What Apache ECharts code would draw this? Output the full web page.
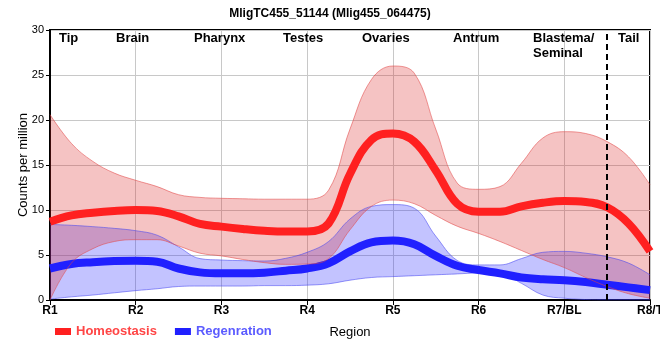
<!DOCTYPE html>
<html>
<head>
<meta charset="utf-8">
<script src="https://cdn.jsdelivr.net/npm/echarts@6/dist/echarts.min.js"></script>
<style>html,body{margin:0;padding:0;background:#fff}#c{width:660px;height:360px}</style>
</head>
<body>
<div id="c"></div>
<script>
// Region positions (R1..R8) sampled every quarter step
var xs = [1,1.25,1.5,1.75,2,2.25,2.5,2.75,3,3.25,3.5,3.75,4,4.25,4.5,4.75,5,5.25,5.5,5.75,6,6.25,6.5,6.75,7,7.25,7.5,7.75,8];
var tickLabels = ['R1','R2','R3','R4','R5','R6','R7/BL','R8/T'];
var regionNames = ['Tip','Brain','Pharynx','Testes','Ovaries','Antrum','Blastema/\nSeminal','Tail'];

var homeoMean = [8.7,9.4,9.7,9.9,10.0,9.9,9.3,8.45,8.15,7.9,7.7,7.6,7.6,8.5,14.0,17.8,18.5,17.6,14.4,10.7,9.8,9.8,10.4,10.8,11.0,10.9,10.3,8.5,5.4];
var homeoHigh = [20.6,17.4,15.4,14.1,13.3,12.6,11.7,11.4,11.3,11.25,11.2,11.2,11.2,12.2,19.0,24.5,26.0,25.2,19.0,13.0,12.3,12.6,15.2,18.0,18.7,18.5,17.6,15.9,12.8];
var homeoLow  = [0.0,4.1,5.7,6.5,6.7,6.7,6.0,5.2,4.9,4.5,4.15,3.96,4.0,4.6,7.8,10.4,11.1,10.7,9.4,8.2,7.4,6.5,5.5,4.5,3.6,2.5,1.5,0.7,0.2];

var regenMean = [3.5,4.0,4.2,4.33,4.37,4.26,3.5,3.07,2.96,2.96,3.04,3.26,3.5,4.07,5.4,6.4,6.6,6.2,4.9,3.8,3.33,2.96,2.5,2.3,2.2,2.0,1.7,1.4,1.1];
var regenHigh = [8.4,8.3,8.15,7.96,7.7,7.2,5.9,4.6,4.44,4.37,4.33,4.63,5.3,6.5,9.0,10.4,10.6,10.2,7.1,4.4,3.9,3.9,4.6,5.3,5.4,5.2,4.8,4.1,2.8];
var regenLow  = [0.1,0.35,0.55,0.8,1.04,1.25,1.5,1.55,1.55,1.55,1.6,1.6,1.65,1.8,2.2,2.5,2.6,2.7,2.8,2.9,3.0,2.96,1.85,0.55,0.2,0.05,0,0,0];

var dividerX = 7.5;

var cats = xs.map(String);
function diffs(hi, lo){ return hi.map(function(h,i){ return +(h-lo[i]).toFixed(3); }); }
function isMain(i){ return i % 4 === 0; }

var FONT = 'Liberation Sans, Arial, sans-serif';
var SM = 0.4;

var chart = echarts.init(document.getElementById('c'), null, {renderer:'canvas'});

var labelLeft = [59,116,194,283,362,453,533,618];
var graphics = regionNames.map(function(n,i){
  return {type:'text', left: labelLeft[i], top: 31, z: 100,
    style:{text:n, font:'bold 13px ' + FONT, fill:'#000', lineHeight:15}};
});

var noBorder = {borderWidth:0, borderColor:'transparent'};

chart.setOption({
  animation:false,
  title:{text:'MligTC455_51144 (Mlig455_064475)', left:'center', top:3,
    textStyle:{fontFamily:FONT, fontSize:12, fontWeight:'bold', color:'#000'}},
  grid:{left:50, right:10, top:30, bottom:60, show:true, borderColor:'#000', borderWidth:2,
    outerBoundsMode:'none', containLabel:false},
  legend:{left:50, top:320, itemWidth:16, itemHeight:7, itemGap:18, icon:'rect',
    itemStyle:noBorder, lineStyle:{width:0, opacity:0},
    data:[{name:'Homeostasis', icon:'rect', itemStyle:{color:'#ff2020', borderWidth:0, borderColor:'transparent'}, textStyle:{color:'#ff4545'}},
          {name:'Regenration', icon:'rect', itemStyle:{color:'#2020ff', borderWidth:0, borderColor:'transparent'}, textStyle:{color:'#5b5bff'}}],
    textStyle:{fontFamily:FONT, fontSize:13, fontWeight:'bold'}},
  graphic: graphics,
  xAxis:{type:'category', data:cats, boundaryGap:false,
    name:'Region', nameLocation:'middle', nameGap:26, nameMoveOverlap:false,
    nameTextStyle:{fontFamily:FONT, fontSize:13, color:'#000'},
    axisLine:{lineStyle:{color:'#000', width:2}},
    axisTick:{show:true, length:5, interval:function(i){return isMain(i);}, lineStyle:{color:'#000', width:1}},
    axisLabel:{fontFamily:FONT, fontSize:12, fontWeight:'bold', color:'#000', margin:5,
      hideOverlap:false, showMaxLabel:true, showMinLabel:true,
      interval:function(i){return isMain(i);},
      formatter:function(v, i){ return tickLabels[i/4] || ''; }},
    splitLine:{show:true, interval:function(i){return isMain(i);}, lineStyle:{color:'#c8c8c8', width:1}}},
  yAxis:{type:'value', min:0, max:30, interval:5,
    name:'Counts per million', nameLocation:'middle', nameGap:20, nameRotate:90, nameMoveOverlap:false,
    nameTextStyle:{fontFamily:FONT, fontSize:13, color:'#000'},
    axisLine:{show:true, lineStyle:{color:'#000', width:2}},
    axisTick:{show:true, length:4, lineStyle:{color:'#000'}},
    axisLabel:{fontFamily:FONT, fontSize:11, color:'#000', margin:6},
    splitLine:{show:true, lineStyle:{color:'#c8c8c8', width:1}}},
  series:[
    {name:'regenLowEdge', type:'line', stack:'regen', data:regenLow, smooth:SM, symbol:'none', silent:true,
      lineStyle:{color:'rgba(70,70,240,0.55)', width:1}},
    {name:'regenBand', type:'line', stack:'regen', data:diffs(regenHigh, regenLow), smooth:SM, symbol:'none', silent:true,
      lineStyle:{color:'rgba(70,70,240,0.55)', width:1}, areaStyle:{color:'rgba(40,40,255,0.4)'}},
    {name:'Regenration', type:'line', data:regenMean, smooth:SM, symbol:'none',
      color:'#2020ff', itemStyle:{color:'#2020ff', borderWidth:0}, lineStyle:{color:'#2020ff', width:8}},
    {name:'homeoLowEdge', type:'line', stack:'homeo', data:homeoLow, smooth:SM, symbol:'none', silent:true,
      lineStyle:{color:'rgba(225,70,70,0.55)', width:1}},
    {name:'homeoBand', type:'line', stack:'homeo', data:diffs(homeoHigh, homeoLow), smooth:SM, symbol:'none', silent:true,
      lineStyle:{color:'rgba(225,70,70,0.55)', width:1}, areaStyle:{color:'rgba(220,40,40,0.4)'}},
    {name:'Homeostasis', type:'line', data:homeoMean, smooth:SM, symbol:'none',
      color:'#ff2020', itemStyle:{color:'#ff2020', borderWidth:0}, lineStyle:{color:'#ff2020', width:8},
      markLine:{silent:true, symbol:['none','none'], label:{show:false}, z:50,
        lineStyle:{color:'#000', type:[6,4], width:2}, data:[{xAxis:String(dividerX)}]}}
  ]
});
</script>
</body>
</html>
